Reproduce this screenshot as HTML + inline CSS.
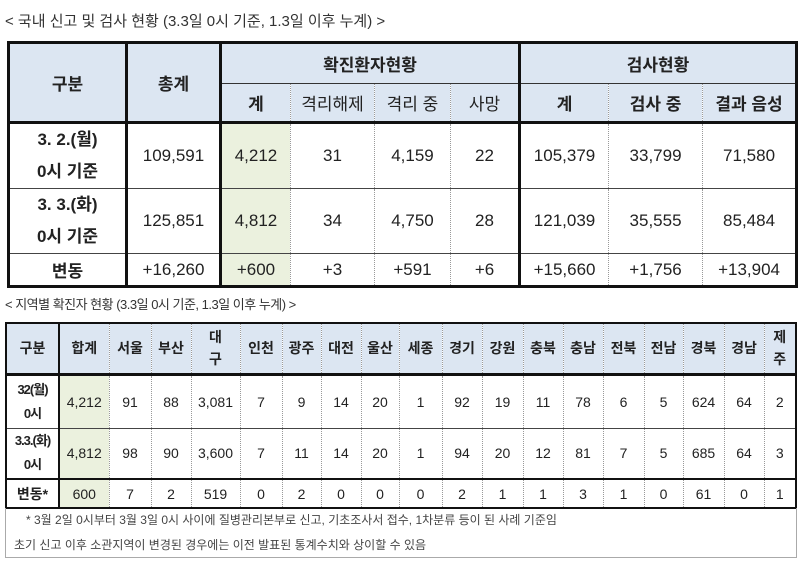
<!DOCTYPE html>
<html><head><meta charset="utf-8"><style>
body{margin:0;width:800px;height:564px;background:#fff;position:relative;overflow:hidden;font-family:"Liberation Sans","Noto Sans CJK KR",sans-serif;color:#222}
.t{position:absolute;font-size:14px;color:#333;white-space:nowrap}
table{position:absolute;border-collapse:collapse;table-layout:fixed}
td{padding:0;text-align:center;border:1px dotted #999;overflow:hidden;white-space:nowrap}
.h{background:#dce6f2;font-weight:bold}
.g{background:#ebf1de}
#a{left:7px;top:41px;width:788px;border:3px solid #111;font-size:17px}
#a td.n{font-weight:normal}
#b{left:5px;top:322px;width:790px;border:2px solid #111;font-size:14px}
.tk{border-bottom:3px solid #111}
.tl{border-left:3px solid #111}
#f{position:absolute;left:5px;top:508px;width:792px;height:50px;border:1px solid #aaa;border-top:none;font-size:12px;color:#444;line-height:25px;box-sizing:border-box}
</style></head><body>
<div class="t" style="left:5px;top:10px;font-size:15px">&lt; 국내 신고 및 검사 현황 (3.3일 0시 기준, 1.3일 이후 누계) &gt;</div>
<table id="a">
<colgroup><col style="width:118px"><col style="width:94px"><col style="width:70px"><col style="width:84px"><col style="width:76px"><col style="width:69px"><col style="width:89px"><col style="width:94px"><col style="width:94px"></colgroup>
<tr style="height:41px"><td class="h tk" rowspan="2" style="border-right:3px solid #111">구분</td><td class="h tk" rowspan="2" style="border-right:3px solid #111">총계</td><td class="h" colspan="4" style="border-bottom:1px solid #333">확진환자현황</td><td class="h tl" colspan="3" style="border-bottom:1px solid #333">검사현황</td></tr>
<tr style="height:39px"><td class="h tk">계</td><td class="h tk n">격리해제</td><td class="h tk n">격리 중</td><td class="h tk n">사망</td><td class="h tk tl">계</td><td class="h tk">검사 중</td><td class="h tk">결과 음성</td></tr>
<tr style="height:65px"><td style="font-weight:bold;line-height:32px;border-right:3px solid #111;border-bottom:1px solid #444">3. 2.(월)<br>0시 기준</td><td style="border-right:3px solid #111;border-bottom:1px solid #444">109,591</td><td class="g" style="border-bottom:1px solid #444">4,212</td><td style="border-bottom:1px solid #444">31</td><td style="border-bottom:1px solid #444">4,159</td><td style="border-bottom:1px solid #444">22</td><td class="tl" style="border-bottom:1px solid #444">105,379</td><td style="border-bottom:1px solid #444">33,799</td><td style="border-bottom:1px solid #444">71,580</td></tr>
<tr style="height:64px"><td style="font-weight:bold;line-height:32px;border-right:3px solid #111;border-bottom:1px solid #444">3. 3.(화)<br>0시 기준</td><td style="border-right:3px solid #111;border-bottom:1px solid #444">125,851</td><td class="g" style="border-bottom:1px solid #444">4,812</td><td style="border-bottom:1px solid #444">34</td><td style="border-bottom:1px solid #444">4,750</td><td style="border-bottom:1px solid #444">28</td><td class="tl" style="border-bottom:1px solid #444">121,039</td><td style="border-bottom:1px solid #444">35,555</td><td style="border-bottom:1px solid #444">85,484</td></tr>
<tr style="height:33px"><td style="font-weight:bold;border-right:3px solid #111">변동</td><td style="border-right:3px solid #111">+16,260</td><td class="g">+600</td><td>+3</td><td>+591</td><td>+6</td><td class="tl">+15,660</td><td>+1,756</td><td>+13,904</td></tr>
</table>
<div class="t" style="left:5px;top:294px;font-size:13px;letter-spacing:-0.5px">&lt; 지역별 확진자 현황 (3.3일 0시 기준, 1.3일 이후 누계) &gt;</div>
<table id="b">
<colgroup><col style="width:53px"><col style="width:50px"><col style="width:42px"><col style="width:40px"><col style="width:49px"><col style="width:42px"><col style="width:39px"><col style="width:40px"><col style="width:38px"><col style="width:43px"><col style="width:40px"><col style="width:41px"><col style="width:40px"><col style="width:40px"><col style="width:41px"><col style="width:39px"><col style="width:41px"><col style="width:40px"><col style="width:32px"></colgroup>
<tr style="height:51px" class="h"><td class="tk" style="border-right:2px solid #111">구분</td><td class="tk">합계</td><td class="tk">서울</td><td class="tk">부산</td><td class="tk" style="line-height:22px">대<br>구</td><td class="tk">인천</td><td class="tk">광주</td><td class="tk">대전</td><td class="tk">울산</td><td class="tk">세종</td><td class="tk">경기</td><td class="tk">강원</td><td class="tk">충북</td><td class="tk">충남</td><td class="tk">전북</td><td class="tk">전남</td><td class="tk">경북</td><td class="tk">경남</td><td class="tk" style="line-height:22px">제<br>주</td></tr>
<tr style="height:54px;border-bottom:1px solid #444"><td style="font-weight:bold;font-size:13px;line-height:24px;border-right:2px solid #111;letter-spacing:-1px">32(월)<br>0시</td><td class="g">4,212</td><td>91</td><td>88</td><td>3,081</td><td>7</td><td>9</td><td>14</td><td>20</td><td>1</td><td>92</td><td>19</td><td>11</td><td>78</td><td>6</td><td>5</td><td>624</td><td>64</td><td>2</td></tr>
<tr style="height:51px;border-bottom:2px solid #111"><td style="font-weight:bold;font-size:13px;line-height:24px;border-right:2px solid #111;letter-spacing:-1px">3.3.(화)<br>0시</td><td class="g">4,812</td><td>98</td><td>90</td><td>3,600</td><td>7</td><td>11</td><td>14</td><td>20</td><td>1</td><td>94</td><td>20</td><td>12</td><td>81</td><td>7</td><td>5</td><td>685</td><td>64</td><td>3</td></tr>
<tr style="height:29px"><td style="font-weight:bold;border-right:2px solid #111">변동*</td><td class="g">600</td><td>7</td><td>2</td><td>519</td><td>0</td><td>2</td><td>0</td><td>0</td><td>0</td><td>2</td><td>1</td><td>1</td><td>3</td><td>1</td><td>0</td><td>61</td><td>0</td><td>1</td></tr>
</table>
<div id="f"><div style="padding-left:20px">* 3월 2일 0시부터 3월 3일 0시 사이에 질병관리본부로 신고, 기초조사서 접수, 1차분류 등이 된 사례 기준임</div><div style="padding-left:8px">초기 신고 이후 소관지역이 변경된 경우에는 이전 발표된 통계수치와 상이할 수 있음</div></div>
</body></html>
